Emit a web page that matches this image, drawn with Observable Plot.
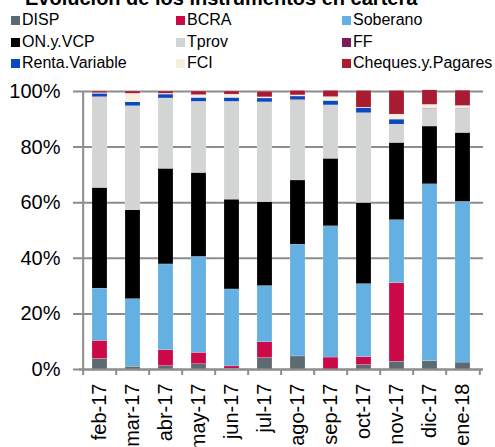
<!DOCTYPE html>
<html>
<head>
<meta charset="utf-8">
<script src="https://cdn.jsdelivr.net/npm/d3@7"></script>
<script src="https://cdn.jsdelivr.net/npm/@observablehq/plot@0.6"></script>
<style>
  html, body { margin: 0; padding: 0; background: #fff; }
  body { width: 495px; height: 447px; overflow: hidden; position: relative; font-family: "Liberation Sans", Arial, sans-serif; }
  #title { position: absolute; left: 25px; top: -12px; font-size: 20px; line-height: 20px; font-weight: bold; color: #000; white-space: nowrap; }
  .lg { position: absolute; font-size: 16px; line-height: 18px; color: #000; white-space: nowrap; }
  .lg span { display: inline-block; width: 9px; height: 9px; margin-right: 2px; vertical-align: 0px; }
  #chart { position: absolute; left: 0; top: 80px; }
</style>
</head>
<body>
<div id="title">Evolución de los instrumentos en cartera</div>
<div id="legend"></div>
<div id="chart"></div>
<script>
const months = ["feb-17","mar-17","abr-17","may-17","jun-17","jul-17","ago-17","sep-17","oct-17","nov-17","dic-17","ene-18"];
const seriesNames = ["DISP","BCRA","Soberano","ON.y.VCP","Tprov","FF","Renta.Variable","FCI","Cheques.y.Pagares"];
const seriesColors = ["#5e6a72","#cc0a4a","#64b0e2","#000000","#d3d4d4","#7a1e5a","#0a48c0","#f5efe0","#a81b31"];

const DISP     = [3.8, 1.0, 1.2, 1.9, 0.3, 4.1, 4.7, 0.0, 1.6, 2.8, 3.0, 2.5];
const BCRA     = [6.5, 0.0, 5.7, 4.1, 0.8, 5.7, 0.0, 4.3, 2.8, 28.3, 0.0, 0.0];
const Soberano = [18.8, 24.3, 30.9, 34.5, 27.7, 20.2, 40.2, 47.2, 26.3, 22.6, 63.6, 57.8];
const ONyVCP   = [36.2, 32.0, 34.4, 30.2, 32.3, 30.2, 23.1, 24.3, 29.2, 27.8, 20.8, 24.8];
const Tprov    = [32.5, 37.4, 25.3, 25.6, 35.2, 35.8, 28.7, 19.2, 32.3, 6.6, 6.2, 8.7];
const FF       = [0.2, 0.0, 0.0, 0.0, 0.0, 0.1, 0.3, 0.0, 0.0, 0.0, 0.2, 0.2];
const Renta    = [1.2, 1.4, 1.4, 1.4, 1.4, 1.4, 1.2, 1.6, 1.8, 1.8, 0.0, 0.0];
const FCI      = [0.2, 3.1, 0.3, 1.0, 1.2, 0.4, 0.4, 1.4, 0.2, 1.8, 1.4, 0.8];
const Cheques  = [0.6, 0.8, 0.8, 1.3, 1.1, 2.0, 1.6, 2.2, 6.0, 8.5, 5.2, 5.5];
const yTicks = [0, 20, 40, 60, 80, 100];

const seriesValues = [DISP, BCRA, Soberano, ONyVCP, Tprov, FF, Renta, FCI, Cheques];
const rows = [];
seriesNames.forEach((s, si) => months.forEach((m, mi) => rows.push({month: m, series: s, value: seriesValues[si][mi]})));

// legend (3 columns, row-major)
const legend = document.getElementById("legend");
const colX = [11, 176, 342];
const rowY = [11, 33, 54];
seriesNames.forEach((s, i) => {
  const d = document.createElement("div");
  d.className = "lg";
  d.style.left = colX[i % 3] + "px";
  d.style.top = rowY[Math.floor(i / 3)] + "px";
  d.innerHTML = `<span style="background:${seriesColors[i]}"></span>${s}`;
  legend.appendChild(d);
});

const W = 495, H = 367, mL = 79, mR = 12, mT = 11, mB = 78;
const step = (W - mL - mR) / months.length;
const gray = "#8c8c8c";

const chart = Plot.plot({
  width: W, height: H,
  marginLeft: mL, marginRight: mR, marginTop: mT, marginBottom: mB,
  style: {fontFamily: "Liberation Sans, Arial, sans-serif", background: "transparent", color: "#000"},
  x: {domain: months, paddingInner: 0.55, paddingOuter: 0.275, label: null},
  y: {domain: [0, 100], label: null},
  color: {domain: seriesNames, range: seriesColors},
  marks: [
    Plot.ruleY(yTicks, {y: d => d, stroke: gray, strokeWidth: 2, insetLeft: -6}),
    Plot.barY(rows, {x: "month", y: "value", fill: "series", order: seriesNames, stroke: "#ffffff", strokeWidth: 0.3, strokeOpacity: 0.6}),
    // left axis line (extends below the baseline like a tick)
    Plot.ruleX(months.slice(0, 1), {x: d => d, dx: -step / 2, insetBottom: -6, stroke: gray, strokeWidth: 2}),
    // category boundary ticks below the baseline
    Plot.ruleX(months.slice(1), {x: d => d, dx: -step / 2, y1: 0, y2: 0, insetBottom: -6, stroke: gray, strokeWidth: 2}),
    Plot.ruleX(months.slice(-1), {x: d => d, dx: step / 2, y1: 0, y2: 0, insetBottom: -6, stroke: gray, strokeWidth: 2}),
    Plot.ruleY([0], {stroke: gray, strokeWidth: 2}),
    Plot.axisY({ticks: yTicks, tickFormat: d => d + "%", tickSize: 0, tickPadding: 19, fontSize: 20, fill: "#000"}),
    Plot.axisX({tickSize: 0, tickPadding: 14, tickRotate: -90, fontSize: 20, fill: "#000"})
  ]
});
document.getElementById("chart").appendChild(chart);
</script>
</body>
</html>
